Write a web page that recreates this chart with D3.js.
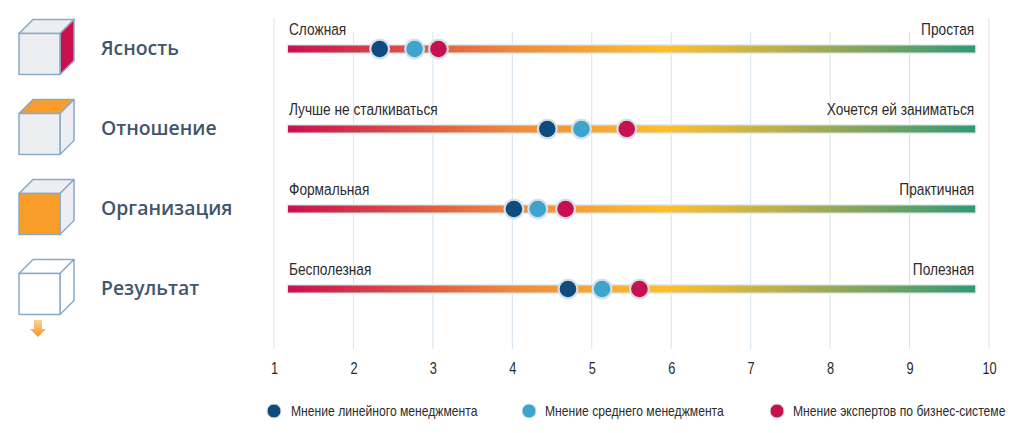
<!DOCTYPE html>
<html>
<head>
<meta charset="utf-8">
<script src="https://cdn.jsdelivr.net/npm/d3@7"></script>
<style>
  html, body { margin: 0; padding: 0; background: #fff; overflow: hidden; }
  svg { display: block; }
  .narrow { font-family: "Liberation Sans", sans-serif; fill: #2b2b2b; }
  .dim { font-family: "Open Sans", sans-serif; font-weight: 600; font-size: 19.4px; fill: #3f566b; }
</style>
</head>
<body>
<div id="chart"></div>
<script>
const dimensions = ['Ясность', 'Отношение', 'Организация', 'Результат'];
const leftLabels = ['Сложная', 'Лучше не сталкиваться', 'Формальная', 'Бесполезная'];
const rightLabels = ['Простая', 'Хочется ей заниматься', 'Практичная', 'Полезная'];
const lineManagers = [2.33, 4.44, 4.02, 4.70];
const middleManagers = [2.77, 4.87, 4.32, 5.13];
const experts = [3.07, 5.44, 4.67, 5.60];
const ticks = [1, 2, 3, 4, 5, 6, 7, 8, 9, 10];
const barExtent = [1.176, 9.826];
const seriesNames = ['Мнение линейного менеджмента', 'Мнение среднего менеджмента', 'Мнение экспертов по бизнес-системе'];
const seriesColors = ['#0f4c7d', '#3ea3cd', '#c8104f'];

const width = 1024, height = 433;
const svg = d3.select('#chart').append('svg').attr('width', width).attr('height', height);

const x = d3.scaleLinear().domain([1, 10]).range([274, 989]);
const y = d3.scalePoint().domain(dimensions).range([49, 289]);

const defs = svg.append('defs');
const grad = defs.append('linearGradient').attr('id', 'barGrad');
[[0, '#c8104f'], [0.33, '#ee8a3c'], [0.55, '#fdbf2d'], [0.72, '#bcae4c'], [1, '#2f9a73']].forEach(s => {
  grad.append('stop').attr('offset', s[0]).attr('stop-color', s[1]);
});
const arrowGrad = defs.append('linearGradient').attr('id', 'arrowGrad').attr('x2', 0).attr('y2', 1);
arrowGrad.append('stop').attr('offset', 0).attr('stop-color', '#fbd3a0');
arrowGrad.append('stop').attr('offset', 1).attr('stop-color', '#f7941d');

// no narrow font here, so squeeze the plain one
const squeeze = (sel, px, py, k) => sel.attr('transform', function(d, i) {
  return `translate(${px(d, i)},${py(d, i)}) scale(${k},1)`;
});

// grid
svg.append('g').selectAll('line').data(ticks).enter().append('line')
  .attr('x1', d => x(d)).attr('x2', d => x(d))
  .attr('y1', d => (d === 1 || d === 10) ? 18 : 32)
  .attr('y2', 349)
  .attr('stroke', '#d6e3ee').attr('stroke-width', 1);

// axis
const axis = svg.append('g').attr('transform', 'translate(0,368)')
  .call(d3.axisBottom(x).tickValues(ticks).tickSize(0).tickPadding(0).tickFormat(d3.format('d')));
axis.select('.domain').remove();
axis.selectAll('text').attr('class', 'narrow').attr('y', 0).attr('dy', '0.35em')
  .attr('transform', 'scale(0.8,1)').style('font-size', '16px');

// bars
const rows = svg.append('g').selectAll('g').data(dimensions).enter().append('g');
rows.append('rect')
  .attr('x', x(barExtent[0]) - 1.5).attr('width', x(barExtent[1]) - x(barExtent[0]) + 3)
  .attr('y', d => y(d) - 5).attr('height', 10).attr('rx', 2)
  .attr('fill', '#e3ebf1');
rows.append('rect')
  .attr('x', x(barExtent[0])).attr('width', x(barExtent[1]) - x(barExtent[0]))
  .attr('y', d => y(d) - 3.5).attr('height', 7)
  .attr('fill', 'url(#barGrad)');

rows.append('text').attr('class', 'narrow').style('font-size', '16.5px')
  .call(squeeze, () => x(barExtent[0]) + 1, d => y(d) - 14, 0.83)
  .text((d, i) => leftLabels[i]);
rows.append('text').attr('class', 'narrow').style('font-size', '16.5px')
  .attr('text-anchor', 'end')
  .call(squeeze, () => x(barExtent[1]) - 1, d => y(d) - 14, 0.83)
  .text((d, i) => rightLabels[i]);

rows.append('text').attr('class', 'dim').attr('x', 101).attr('y', d => y(d) + 6).text(d => d);

// points
[lineManagers, middleManagers, experts].forEach((values, s) => {
  const pts = svg.append('g').selectAll('g').data(values).enter().append('g')
    .attr('transform', (d, i) => `translate(${x(d)},${y(dimensions[i])})`);
  pts.append('circle').attr('r', 10.5).attr('fill', '#d5e1ea');
  pts.append('circle').attr('r', 8.3).attr('fill', seriesColors[s]);
});

// cubes
const side = 41, depth = 14;
const faceFill = '#eceef2', cubeStroke = '#8aabc4';
const cubeColors = [
  { right: '#c8104f' },
  { top: '#f99d2a' },
  { front: '#f99d2a' },
  { front: '#fff', top: '#fff', right: '#fff' }
];
dimensions.forEach((d, i) => {
  const g = svg.append('g').attr('transform', `translate(19,${y(d) - 15.5})`);
  const c = cubeColors[i];
  const face = (path, fill) => g.append('path').attr('d', path).attr('fill', fill || faceFill)
    .attr('stroke', cubeStroke).attr('stroke-width', 1.5).attr('stroke-linejoin', 'round');
  face(`M0,0L${depth},${-depth}H${side + depth}L${side},0Z`, c.top);
  face(`M${side},0L${side + depth},${-depth}V${side - depth}L${side},${side}Z`, c.right);
  face(`M0,0H${side}V${side}H0Z`, c.front);
});

// arrow under the last cube
svg.append('path').attr('transform', 'translate(38,320)')
  .attr('d', 'M-4,0H4V9H8L0,17L-8,9H-4Z').attr('fill', 'url(#arrowGrad)');

// legend
const legendX = [274, 529, 777];
const legendText = [291, 545, 793];
seriesNames.forEach((name, i) => {
  svg.append('circle').attr('cx', legendX[i]).attr('cy', 411).attr('r', 7)
    .attr('fill', seriesColors[i]).attr('stroke', '#d3dfe8').attr('stroke-width', 1);
  svg.append('text').attr('class', 'narrow').style('font-size', '14px')
    .attr('transform', `translate(${legendText[i]},416) scale(0.868,1)`).text(name);
});
</script>
</body>
</html>
